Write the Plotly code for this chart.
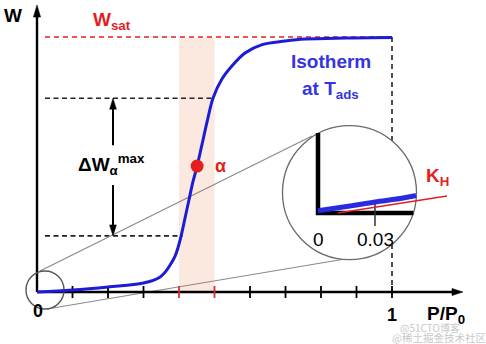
import plotly.graph_objects as go

# ---- isotherm (relative pressure vs. loading, W normalised to W_sat) ----
P_RATIO = [0.0, 0.10, 0.20, 0.30, 0.347, 0.361, 0.375, 0.389, 0.397, 0.406,
           0.417, 0.428, 0.439, 0.451, 0.465, 0.479, 0.496, 0.521, 0.549,
           0.586, 0.634, 0.699, 0.755, 0.87, 1.0]
W_ISO = [0.0, 0.008, 0.020, 0.035, 0.059, 0.078, 0.106, 0.141, 0.173, 0.220,
         0.290, 0.361, 0.431, 0.494, 0.580, 0.667, 0.761, 0.835, 0.886,
         0.937, 0.970, 0.984, 0.992, 0.996, 0.998]

W_SAT = 1.0
TICK_P = [0.1, 0.2, 0.3, 0.4, 0.5, 0.6, 0.7, 0.8, 0.9, 1.0]
TICK_COLOR = ["black", "black", "black", "red", "red",
              "black", "black", "black", "black", "black"]
BAND_P = [0.4, 0.5]                 # working window around alpha
DW_W = [0.22, 0.76]                 # lower / upper loading of the swing
DW_P_END = [0.41, 0.496]            # where the guides meet the isotherm
ALPHA_P, ALPHA_W = 0.451, 0.494

# ---- magnified low-pressure region ----
INSET_P = [0.0, 0.0168, 0.03, 0.0432, 0.0516]
INSET_W = [0.0012, 0.0037, 0.0058, 0.0076, 0.0092]
KH_P = [0.0105, 0.0679]
KH_W = [0.0, 0.0089]
INSET_TICKS = [0, 0.03]
INSET_TICK_TEXT = ["0", "0.03"]

W_PX, H_PX = 486, 344
XR = [-0.10423, 1.26479]
YR = [-0.20392, 1.14510]
XR2 = [-0.167368, 0.088421]
YR2 = [-0.068947, 0.112105]
PX = (XR[1] - XR[0]) / W_PX      # P/P0 units per pixel
PY = (YR[1] - YR[0]) / H_PX      # W units per pixel

BLUE = "#1c1cd6"
TXT_BLUE = "#3535e0"
RED = "#e41e1e"
GRAY = "#8a8a8a"
FONT = "Arial, Liberation Sans, sans-serif"

fig = go.Figure()
shapes = []


def line(x0, y0, x1, y1, color="black", width=1.5, dash=None, xref="x", yref="y"):
    shapes.append(dict(type="line", xref=xref, yref=yref, x0=x0, y0=y0, x1=x1, y1=y1,
                       line=dict(color=color, width=width, dash=dash), layer="below"))


def tri(tip, base_a, base_b, color="black"):
    path = "M{},{} L{},{} L{},{} Z".format(tip[0], tip[1], base_a[0], base_a[1],
                                           base_b[0], base_b[1])
    shapes.append(dict(type="path", xref="x", yref="y", path=path,
                       fillcolor=color, line=dict(color=color, width=0.5), layer="below"))


# shaded window
shapes.append(dict(type="rect", xref="x", yref="y", x0=BAND_P[0], x1=BAND_P[1],
                   y0=0, y1=W_SAT - 0.004, fillcolor="#fbe8de", line=dict(width=0),
                   layer="below"))

# saturation line and guides
line(8 * PX, W_SAT, 1.0, W_SAT, color=RED, width=1.6, dash="5px,4px")
line(1.0, W_SAT, 1.0, 0, color="#222222", width=1.6, dash="5px,4px")
for w, pend in zip(DW_W, DW_P_END):
    line(8 * PX, w, pend, w, color="#222222", width=1.6, dash="5px,3.5px")

# gray connectors between the two circles
line(0.00845, 0.0824, 0.7746, 0.6118, color=GRAY, width=1.2)
line(0.02817, -0.0667, 0.8676, 0.1294, color=GRAY, width=1.2)

# axes with arrowheads
line(0, 0, 0, 1.08, width=2.4)
tri((0, 1.1255), (-3.6 * PX, 1.078), (3.6 * PX, 1.078))
line(0, 0, 1.17, 0, width=2.4)
tri((1.2, 0), (1.169, -3.6 * PY), (1.169, 3.6 * PY))

# ticks
for p, c in zip(TICK_P, TICK_COLOR):
    line(p, -6 * PY, p, 6 * PY, color=("#d83030" if c == "red" else "black"), width=1.8)

# swing double arrow
ax_p = (113 - 37) * PX
line(ax_p, DW_W[1] - 8 * PY, ax_p, DW_W[1] - 47 * PY, width=2)
tri((ax_p, DW_W[1]), (ax_p - 3.4 * PX, DW_W[1] - 11 * PY), (ax_p + 3.4 * PX, DW_W[1] - 11 * PY))
line(ax_p, DW_W[0] + 8 * PY, ax_p, DW_W[0] + 51 * PY, width=2)
tri((ax_p, DW_W[0]), (ax_p - 3.4 * PX, DW_W[0] + 11 * PY), (ax_p + 3.4 * PX, DW_W[0] + 11 * PY))

# circles
shapes.append(dict(type="circle", xref="x", yref="y", x0=-0.0310, x1=0.0761,
                   y0=-0.0667, y1=0.0823, line=dict(color="#555555", width=1.4),
                   layer="below"))
shapes.append(dict(type="circle", xref="x", yref="y", x0=0.6915, x1=1.0690,
                   y0=0.1273, y1=0.6527, fillcolor="white",
                   line=dict(color="#6a6a6a", width=1.3), layer="below"))

# isotherm
fig.add_trace(go.Scatter(x=P_RATIO, y=W_ISO, mode="lines",
                         line=dict(color=BLUE, width=3, shape="spline", smoothing=1.0),
                         hoverinfo="skip", showlegend=False))
# alpha point
fig.add_trace(go.Scatter(x=[ALPHA_P], y=[ALPHA_W], mode="markers",
                         marker=dict(color=RED, size=13), hoverinfo="skip",
                         showlegend=False))

# inset: axes, tick, isotherm close-up and Henry slope
fig.add_trace(go.Scatter(x=[0, 0, 0.0502], y=[0.0421, 0, 0], mode="lines",
                         line=dict(color="black", width=4.5), xaxis="x2", yaxis="y2",
                         hoverinfo="skip", showlegend=False))
fig.add_trace(go.Scatter(x=[INSET_TICKS[1], INSET_TICKS[1]], y=[0.0068, -0.0068],
                         mode="lines", line=dict(color="#333333", width=1.5),
                         xaxis="x2", yaxis="y2", hoverinfo="skip", showlegend=False))
fig.add_trace(go.Scatter(x=INSET_P, y=INSET_W, mode="lines",
                         line=dict(color="#2a2ae0", width=5, shape="spline"),
                         xaxis="x2", yaxis="y2", hoverinfo="skip", showlegend=False))
fig.add_trace(go.Scatter(x=KH_P, y=KH_W, mode="lines",
                         line=dict(color=RED, width=1.5),
                         xaxis="x2", yaxis="y2", hoverinfo="skip", showlegend=False))

ann = []


def text(x, y, s, size, color="black", xanchor="center", yanchor="middle",
         xref="x", yref="y", family=FONT):
    ann.append(dict(x=x, y=y, xref=xref, yref=yref, text=s, showarrow=False,
                    xanchor=xanchor, yanchor=yanchor,
                    font=dict(family=family, size=size, color=color)))


text(-24 * PX, 1.086, "<b>W</b>", 19)
text(54 * PX, 1.063, "<b>W<sub>sat</sub></b>", 19, color=RED, xanchor="left")
text(0.8268, 0.902, "<b>Isotherm</b>", 19, color=TXT_BLUE)
text(0.8268, 0.792, "<b>at T<sub>ads</sub></b>", 19, color=TXT_BLUE)
text(39 * PX, 0.50, "<b>ΔW<sub>α</sub><sup>max</sup></b>", 19, xanchor="left")
text(ALPHA_P + 16 * PX, ALPHA_W, "<b>α</b>", 18, color=RED, xanchor="left")
text(1.09, 0.452, "<b>K<sub>H</sub></b>", 19, color=RED, xanchor="left")
text(0.0028, -0.0745, "<b>0</b>", 18)
text(1.0, -0.090, "<b>1</b>", 18)
text(1.093, -0.090, "<b>P/P<sub>0</sub></b>", 19, xanchor="left")
for tp, tt in zip(INSET_TICKS, INSET_TICK_TEXT):
    ann.append(dict(x=tp, y=-0.0142, xref="x2", yref="y2", text=tt, showarrow=False,
                    font=dict(family=FONT, size=19, color="black")))
text(398 / W_PX, (H_PX - 327) / H_PX, "@51CTO博客", 10, color="#c8c8c8",
     xanchor="left", xref="paper", yref="paper", family="Noto Sans CJK SC")
text(390 / W_PX, (H_PX - 337) / H_PX, "@稀土掘金技术社区", 10.5, color="#c8c8c8",
     xanchor="left", xref="paper", yref="paper", family="Noto Sans CJK SC")

hidden = dict(visible=False, showgrid=False, zeroline=False, fixedrange=True)
fig.update_layout(
    width=W_PX, height=H_PX, autosize=False,
    margin=dict(l=0, r=0, t=0, b=0, pad=0),
    paper_bgcolor="white", plot_bgcolor="white",
    xaxis=dict(range=XR, domain=[0, 1], **hidden),
    yaxis=dict(range=YR, domain=[0, 1], **hidden),
    xaxis2=dict(range=XR2, domain=[0, 1], overlaying="x", anchor="y2", **hidden),
    yaxis2=dict(range=YR2, domain=[0, 1], overlaying="y", anchor="x2", **hidden),
    shapes=shapes, annotations=ann, showlegend=False,
)

fig.write_html("out.html", config={"displayModeBar": False})
